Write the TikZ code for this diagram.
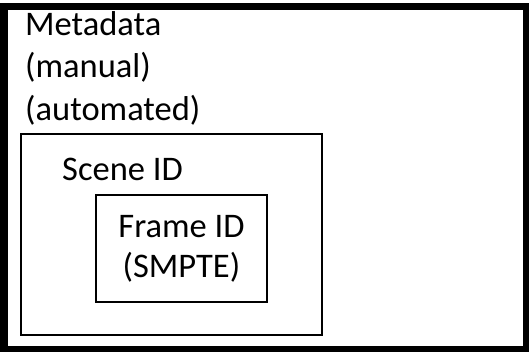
\documentclass[tikz,border=0pt]{standalone}
\usepackage{fontspec}
\setmainfont{Carlito}
\usetikzlibrary{positioning}
\tikzset{
  idbox/.style={draw=black,line width=#1,fill=white,inner sep=0pt,align=center,
    font=\fontsize{34.5}{40}\selectfont},
  idbox/.default=2pt,
  lbl/.style={anchor=base west,inner sep=0pt,font=\fontsize{34.5}{40}\selectfont},
}
\begin{document}
\begin{tikzpicture}[x=1pt,y=-1pt]
  \useasboundingbox (0,0) rectangle (529,351);
  % outer metadata box
  \node[idbox=7.5pt,minimum width=523pt,minimum height=343.5pt] (meta) at (265.5,178.25) {};
  \node[lbl] (metaA) at (25,35) {Metadata};
  \node[lbl] (metaB) at (25,77) {(manual)};
  \node[lbl] (metaC) at (25,120) {(automated)};
  % scene
  \node[idbox,minimum width=301pt,minimum height=201pt] (scene) at (171.5,234.5) {};
  \node[lbl] (sceneT) at (62,180) {Scene ID};
  % frame
  \node[idbox,minimum width=171pt,minimum height=107pt] (frame) at (181.5,248.5)
    {Frame ID\\(SMPTE)};
\end{tikzpicture}
\end{document}
